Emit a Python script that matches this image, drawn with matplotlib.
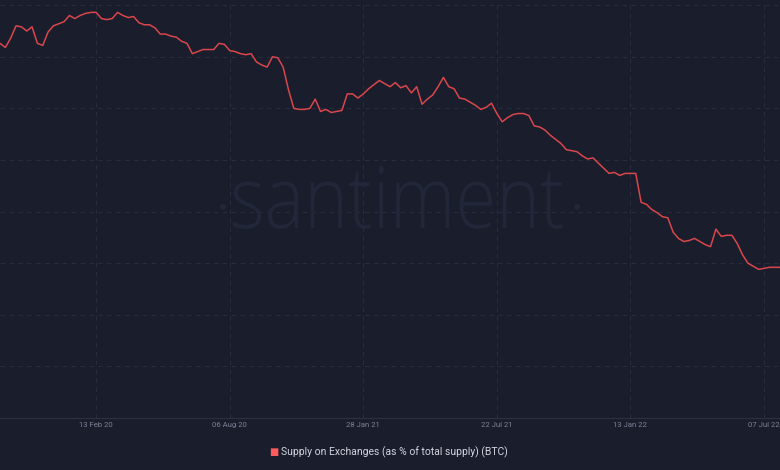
import pandas as pd
from matplotlib import pyplot as plt
from matplotlib.font_manager import FontProperties
from matplotlib.patches import Circle, PathPatch
from matplotlib.textpath import TextPath
from matplotlib.transforms import Affine2D, IdentityTransform

# weekly values, supply on exchanges (% of total supply)
start_date = '2019-10-10'
supply_pct = [
    14.63, 14.59, 14.68, 14.80, 14.79, 14.75, 14.79, 14.63, 14.61, 14.74,
    14.80, 14.82, 14.84, 14.90, 14.87, 14.90, 14.92, 14.93, 14.93, 14.87,
    14.86, 14.87, 14.93, 14.90, 14.88, 14.89, 14.83, 14.81, 14.81, 14.78,
    14.72, 14.72, 14.70, 14.69, 14.65, 14.63, 14.53, 14.55, 14.57, 14.57,
    14.57, 14.63, 14.62, 14.56, 14.55, 14.53, 14.52, 14.53, 14.45, 14.42,
    14.40, 14.50, 14.49, 14.40, 14.18, 14.00, 13.99, 13.99, 14.00, 14.09,
    13.97, 13.99, 13.96, 13.97, 13.98, 14.14, 14.14, 14.10, 14.14, 14.19,
    14.23, 14.27, 14.24, 14.21, 14.25, 14.20, 14.22, 14.15, 14.21, 14.04,
    14.09, 14.13, 14.21, 14.30, 14.21, 14.19, 14.10, 14.09, 14.06, 14.03,
    13.99, 14.01, 14.05, 13.95, 13.87, 13.91, 13.94, 13.95, 13.95, 13.93,
    13.83, 13.82, 13.79, 13.74, 13.70, 13.66, 13.60, 13.59, 13.58, 13.54,
    13.51, 13.52, 13.47, 13.42, 13.37, 13.38, 13.35, 13.37, 13.37, 13.37,
    13.09, 13.07, 13.02, 12.99, 12.95, 12.94, 12.80, 12.74, 12.71, 12.72,
    12.74, 12.71, 12.68, 12.66, 12.83, 12.76, 12.77, 12.77, 12.69, 12.58,
    12.50, 12.47, 12.44, 12.45, 12.46, 12.46, 12.46,
]
tick_dates = ['2020-02-13', '2020-08-06', '2021-01-28', '2021-07-22', '2022-01-13', '2022-07-07']
tick_labels = ['13 Feb 20', '06 Aug 20', '28 Jan 21', '22 Jul 21', '13 Jan 22', '07 Jul 22']
legend_label = 'Supply on Exchanges (as % of total supply) (BTC)'

BG = '#1a1d2c'
GRID = '#282c3e'
LINE = '#d9464c'
MARK = '#222639'

dates = pd.date_range(start_date, periods=len(supply_pct), freq='7D')

fig = plt.figure(figsize=(7.8, 4.7), dpi=100, facecolor=BG)
ax = fig.add_axes([0, 52 / 470, 1, 418 / 470], facecolor=BG)

# watermark, squeezed a bit to look like the condensed santiment logo (pixel units)
tp = TextPath((0, 0), 'santiment', size=1, prop=FontProperties(family='Open Sans', weight='light'))
ext = tp.get_extents()
sx = 330 / ext.width
wm = Affine2D().translate(-ext.x0, 0).scale(sx, 86).translate(233, 242)
fig.add_artist(PathPatch(tp, transform=wm + IdentityTransform(), color=MARK, lw=0, zorder=0.5))
for cx in (223, 577):
    fig.add_artist(Circle((cx, 263), 3, transform=IdentityTransform(), color=MARK, lw=0, zorder=0.5))

ax.plot(dates, supply_pct, color=LINE, lw=1.1, zorder=3)

ax.set_xlim(dates[0], dates[-1])
ax.set_ylim(11.0, 15.05)
ax.set_yticks([11.0 + 0.5 * i for i in range(9)])
ax.set_xticks(pd.to_datetime(tick_dates))
ax.set_xticklabels(tick_labels, family='Roboto')
ax.grid(True, color=GRID, ls=(0, (4, 4)), lw=0.8, zorder=1)
ax.set_axisbelow(True)

for side in ['top', 'right', 'left']:
    ax.spines[side].set_visible(False)
ax.spines['bottom'].set_color('#2c3042')
ax.tick_params(axis='y', left=False, labelleft=False)
ax.tick_params(axis='x', length=0, pad=3, labelsize=5.6, labelcolor='#7c8196')

# legend marker + label
fig.text(0.3505, 0.0375, '\u25a0', color='#ff5a5e', fontsize=7, ha='center', va='center')
fig.text(0.36, 0.037, legend_label, color='#d3d5de', fontsize=7.5, family='Roboto',
         ha='left', va='center')

fig.savefig('out.png', facecolor=BG)
